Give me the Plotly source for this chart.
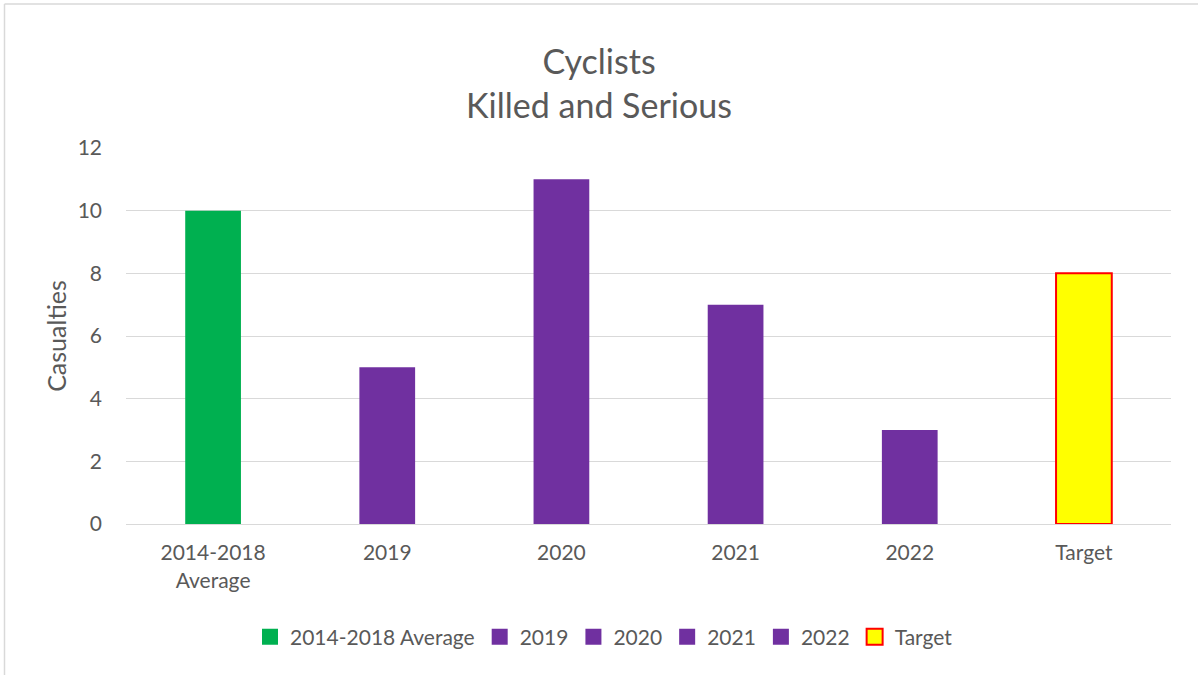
import plotly.graph_objects as go

categories = ["2014-2018<br>Average", "2019", "2020", "2021", "2022", "Target"]
legend_names = ["2014-2018 Average", "2019", "2020", "2021", "2022", "Target"]
values = [10, 5, 11, 7, 3, 8]
fill_colors = ["#00B050", "#7030A0", "#7030A0", "#7030A0", "#7030A0", "#FFFF00"]
line_colors = ["#00B050", "#7030A0", "#7030A0", "#7030A0", "#7030A0", "#FF0000"]
line_widths = [0, 0, 0, 0, 0, 2]

W, H = 1198, 675
L, R, T, B = 126, 27, 148, 151
pw, ph = W - L - R, H - T - B

fig = go.Figure()
for cat, name, v, fc, lc, lw in zip(categories, legend_names, values, fill_colors, line_colors, line_widths):
    fig.add_trace(go.Bar(
        x=[cat], y=[v], name=name, showlegend=False,
        marker=dict(color=fc, line=dict(color=lc, width=lw)),
    ))
# legend entries with larger square swatches
for name, fc, lc, lw in zip(legend_names, fill_colors, line_colors, line_widths):
    fig.add_trace(go.Scatter(
        x=[None], y=[None], mode="markers", name=name, showlegend=True,
        marker=dict(symbol="square", size=16, color=fc, line=dict(color=lc, width=lw)),
    ))

font = "Lato, 'Open Sans', sans-serif"
fig.update_layout(
    width=W, height=H,
    margin=dict(l=L, r=R, t=T, b=B, autoexpand=False),
    paper_bgcolor="white", plot_bgcolor="white",
    barmode="overlay", bargap=0.68,
    font=dict(family=font, color="#595959", size=20),
    title=dict(text="Cyclists<br>Killed and Serious", x=0.5, xanchor="center",
               y=1 - 74 / H, yanchor="middle", yref="container",
               font=dict(size=34, color="#595959", family=font)),
    xaxis=dict(categoryorder="array", categoryarray=categories, showgrid=False,
               showline=True, linecolor="#D9D9D9", linewidth=1.3, ticks="", tickangle=0,
               tickfont=dict(size=21), ticklabelstandoff=10, fixedrange=True),
    yaxis=dict(range=[0, 12], dtick=2, showgrid=True, gridcolor="#D9D9D9", gridwidth=1.3,
               zeroline=True, zerolinecolor="#D9D9D9", zerolinewidth=1.3, ticks="",
               tickfont=dict(size=21), ticklabelstandoff=23, fixedrange=True,
               title=dict(text="Casualties", font=dict(size=25), standoff=3)),
    legend=dict(orientation="h", x=(604 - L) / pw, xanchor="center",
                y=(T + ph - 637) / ph, yanchor="middle", font=dict(size=21),
                traceorder="normal", itemwidth=30, tracegroupgap=0),
    showlegend=True,
)

# chart-area border (left and top edges visible)
bx = (4.5 - L) / pw
by = (T + ph - 4) / ph
fig.add_shape(type="line", xref="paper", yref="paper", x0=bx, x1=bx, y0=-0.5, y1=by,
              line=dict(color="#D9D9D9", width=1.5))
fig.add_shape(type="line", xref="paper", yref="paper", x0=bx, x1=1.2, y0=by, y1=by,
              line=dict(color="#D9D9D9", width=1.5))

fig.write_html("out.html", config={"displayModeBar": False},
               post_script="document.body.style.margin='0';")
